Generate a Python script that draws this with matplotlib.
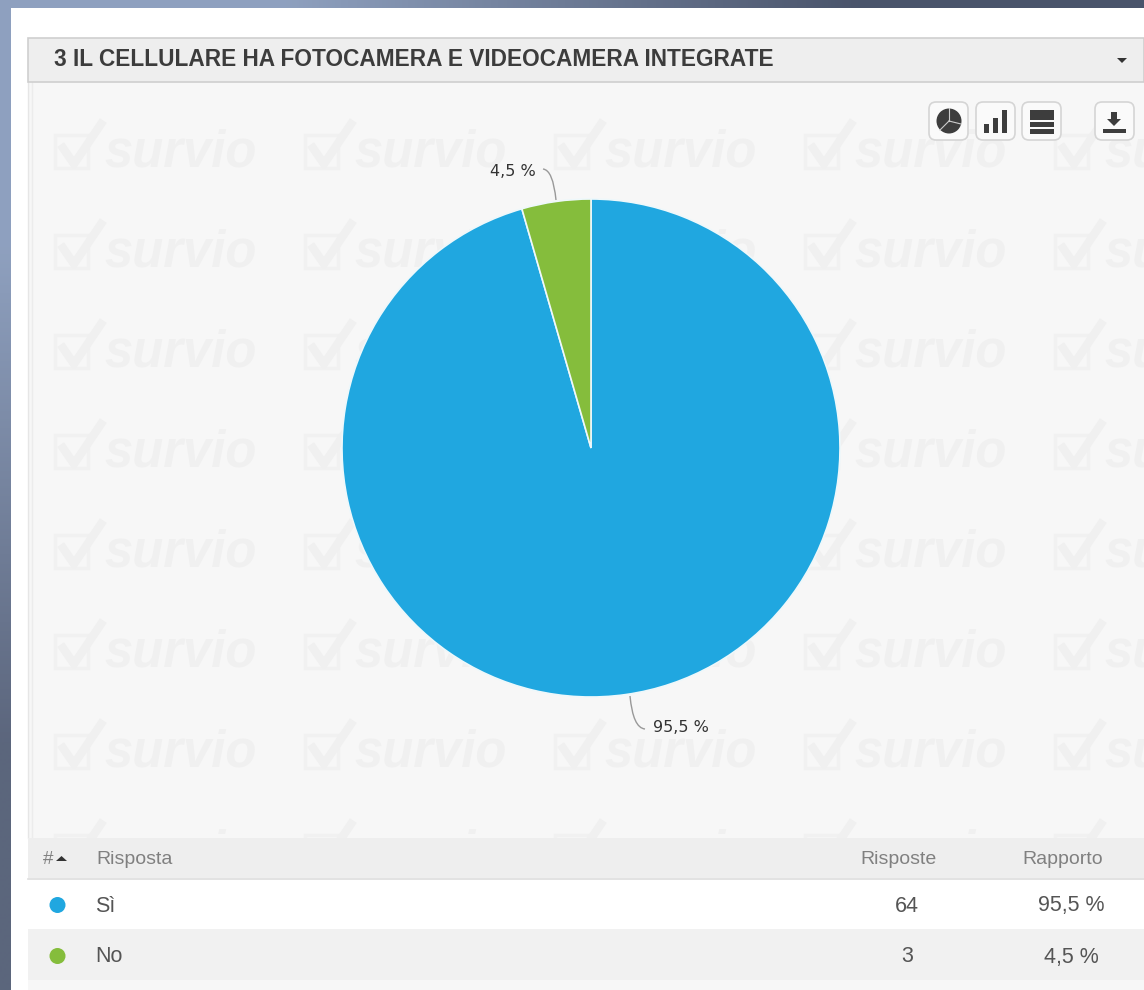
import numpy as np
import matplotlib
matplotlib.use("Agg")
import matplotlib.pyplot as plt
from matplotlib.patches import Rectangle, FancyBboxPatch, Circle, Polygon, PathPatch
from matplotlib.path import Path

title = "3 IL CELLULARE HA FOTOCAMERA E VIDEOCAMERA INTEGRATE"
categories = ["Sì", "No"]
answers = [64, 3]
ratios = ["95,5 %", "4,5 %"]
colors = ["#20a7e0", "#85bd3c"]
head_cols = ["#", "Risposta", "Risposte", "Rapporto"]
mark_x = [55, 305, 555, 805, 1055]
mark_y = [150, 250, 350, 450, 550, 650, 750, 850]

W, H = 1144, 990
plt.rcParams['font.family'] = ['Liberation Sans', 'DejaVu Sans']
fig = plt.figure(figsize=(W/100, H/100), dpi=100)
ax = fig.add_axes([0, 0, 1, 1])
ax.set_xlim(0, W)
ax.set_ylim(H, 0)
ax.axis('off')

# page background, blue-grey gradient
grad = np.array([[[0.56, 0.63, 0.75], [0.29, 0.33, 0.42]],
                 [[0.36, 0.40, 0.49], [0.29, 0.33, 0.42]]])
ax.imshow(grad, extent=[0, W, H, 0], aspect='auto', interpolation='bilinear', zorder=0)
ax.set_xlim(0, W)
ax.set_ylim(H, 0)

ax.add_patch(Rectangle((11, 8), W-11, H-8, fc='white', ec='none', zorder=1))
ax.add_patch(Rectangle((28, 82), W-28, 756, fc='#f7f7f7', ec='none', zorder=1))
ax.add_patch(Rectangle((28, 980), W-28, 10, fc='#f7f7f7', ec='none', zorder=1))
ax.plot([28, 28], [82, 838], color='#e6e6e6', lw=1, zorder=2)
ax.plot([32, 32], [82, 838], color='#ececec', lw=1, zorder=2)

# watermark
for y in mark_y:
    for x in mark_x:
        ax.add_patch(Rectangle((x, y-15), 33, 33, fc='none', ec='#f1f1f1', lw=2.5, zorder=2))
        ax.plot([x+8, x+19, x+46], [y-2, y+14, y-26], color='#f0f0f0', lw=6, zorder=2)
        ax.text(x+49, y+3, "survio", fontsize=36.5, fontweight='bold', style='italic',
                color='#f0f0f0', va='center', ha='left', zorder=2)

# header bar
ax.add_patch(Rectangle((28, 38), W-28, 44, fc='#eeeeee', ec='#cfcfcf', lw=1.2, zorder=3))
ax.text(54, 60, title, fontsize=16.3, fontweight='bold', color='#3c3c3c', va='center', ha='left', zorder=4)
ax.add_patch(Polygon([[1117, 58], [1127, 58], [1122, 63]], fc='#333333', ec='none', zorder=4))

# icon buttons
for x in [929, 976, 1022, 1095]:
    ax.add_patch(FancyBboxPatch((x, 102), 39, 38, boxstyle="round,pad=0,rounding_size=7",
                                fc='#fafafa', ec='#d5d5d5', lw=1.2, zorder=4))
ink = '#3d3d3d'
ax.add_patch(Circle((949, 121), 12.5, fc=ink, ec='none', zorder=5))
ax.plot([949, 949], [108, 121], color='#cccccc', lw=0.8, zorder=6)
ax.plot([949, 961], [121, 124], color='#cccccc', lw=0.8, zorder=6)
ax.plot([949, 940], [121, 130], color='#cccccc', lw=0.8, zorder=6)
for x0, y0 in [(984, 124), (993, 118), (1002, 110)]:
    ax.add_patch(Rectangle((x0, y0), 5, 133-y0, fc=ink, ec='none', zorder=5))
for y0, h in [(110, 10), (122, 5), (129, 5)]:
    ax.add_patch(Rectangle((1030, y0), 24, h, fc=ink, ec='none', zorder=5))
ax.add_patch(Rectangle((1111, 112), 6, 8, fc=ink, ec='none', zorder=5))
ax.add_patch(Polygon([[1107, 119], [1121, 119], [1114, 126]], fc=ink, ec='none', zorder=5))
ax.add_patch(Rectangle((1103, 129), 23, 3.5, fc=ink, ec='none', zorder=5))

# table
ax.add_patch(Rectangle((28, 838), W-28, 40, fc='#eeeeee', ec='none', zorder=3))
ax.plot([28, W], [878.5, 878.5], color='#dddddd', lw=1.2, zorder=4)
ax.add_patch(Rectangle((28, 879), W-28, 50, fc='white', ec='none', zorder=3))
ax.add_patch(Rectangle((28, 929), W-28, 51, fc='#f1f1f1', ec='none', zorder=3))
grey = '#808080'
ax.text(43, 859, head_cols[0], fontsize=13.5, color=grey, va='center', zorder=5)
ax.add_patch(Polygon([[56, 861], [67, 861], [61.5, 856]], fc='#333333', ec='none', zorder=5))
ax.text(96, 859, head_cols[1], fontsize=14, color=grey, va='center', zorder=5)
ax.text(899, 859, head_cols[2], fontsize=14, color=grey, va='center', ha='center', zorder=5)
ax.text(1063, 859, head_cols[3], fontsize=14, color=grey, va='center', ha='center', zorder=5)
row_y = [905, 956]
for i in range(len(categories)):
    ax.add_patch(Circle((57.5, row_y[i]), 8, fc=colors[i], ec='none', zorder=5))
    ax.text(95, row_y[i]+1, categories[i], fontsize=15.5, color='#555555', va='center', zorder=5)
    ax.text(907, row_y[i]+1, str(answers[i]), fontsize=15.5, color='#555555', va='center', ha='center', zorder=5)
    ax.text(1071, row_y[i]+1, ratios[i], fontsize=15.5, color='#555555', va='center', ha='center', zorder=5)

# leader lines and pie labels
leaders = [[(630, 696), (633, 728), (645, 729)], [(556, 200), (553, 170), (543, 169)]]
for pts in leaders:
    ax.add_patch(PathPatch(Path(pts, [Path.MOVETO, Path.CURVE3, Path.CURVE3]), fc='none', ec='#999999', lw=1, zorder=4))
ax.text(653, 728, ratios[0], fontsize=11.5, color='#333333', family='DejaVu Sans', va='center', zorder=5)
ax.text(490, 172, ratios[1], fontsize=11.5, color='#333333', family='DejaVu Sans', va='center', zorder=5)

# pie in its own axes
r = 249
cx, cy = 591, 448
pie_ax = fig.add_axes([(cx-r)/W, 1-(cy+r)/H, 2*r/W, 2*r/H])
pie_ax.pie(answers, colors=colors, startangle=90, counterclock=False, radius=1,
           wedgeprops=dict(edgecolor='#eef8fb', linewidth=1.2))
pie_ax.set_xlim(-1, 1)
pie_ax.set_ylim(-1, 1)
pie_ax.axis('off')

fig.savefig("out.png", dpi=100)
